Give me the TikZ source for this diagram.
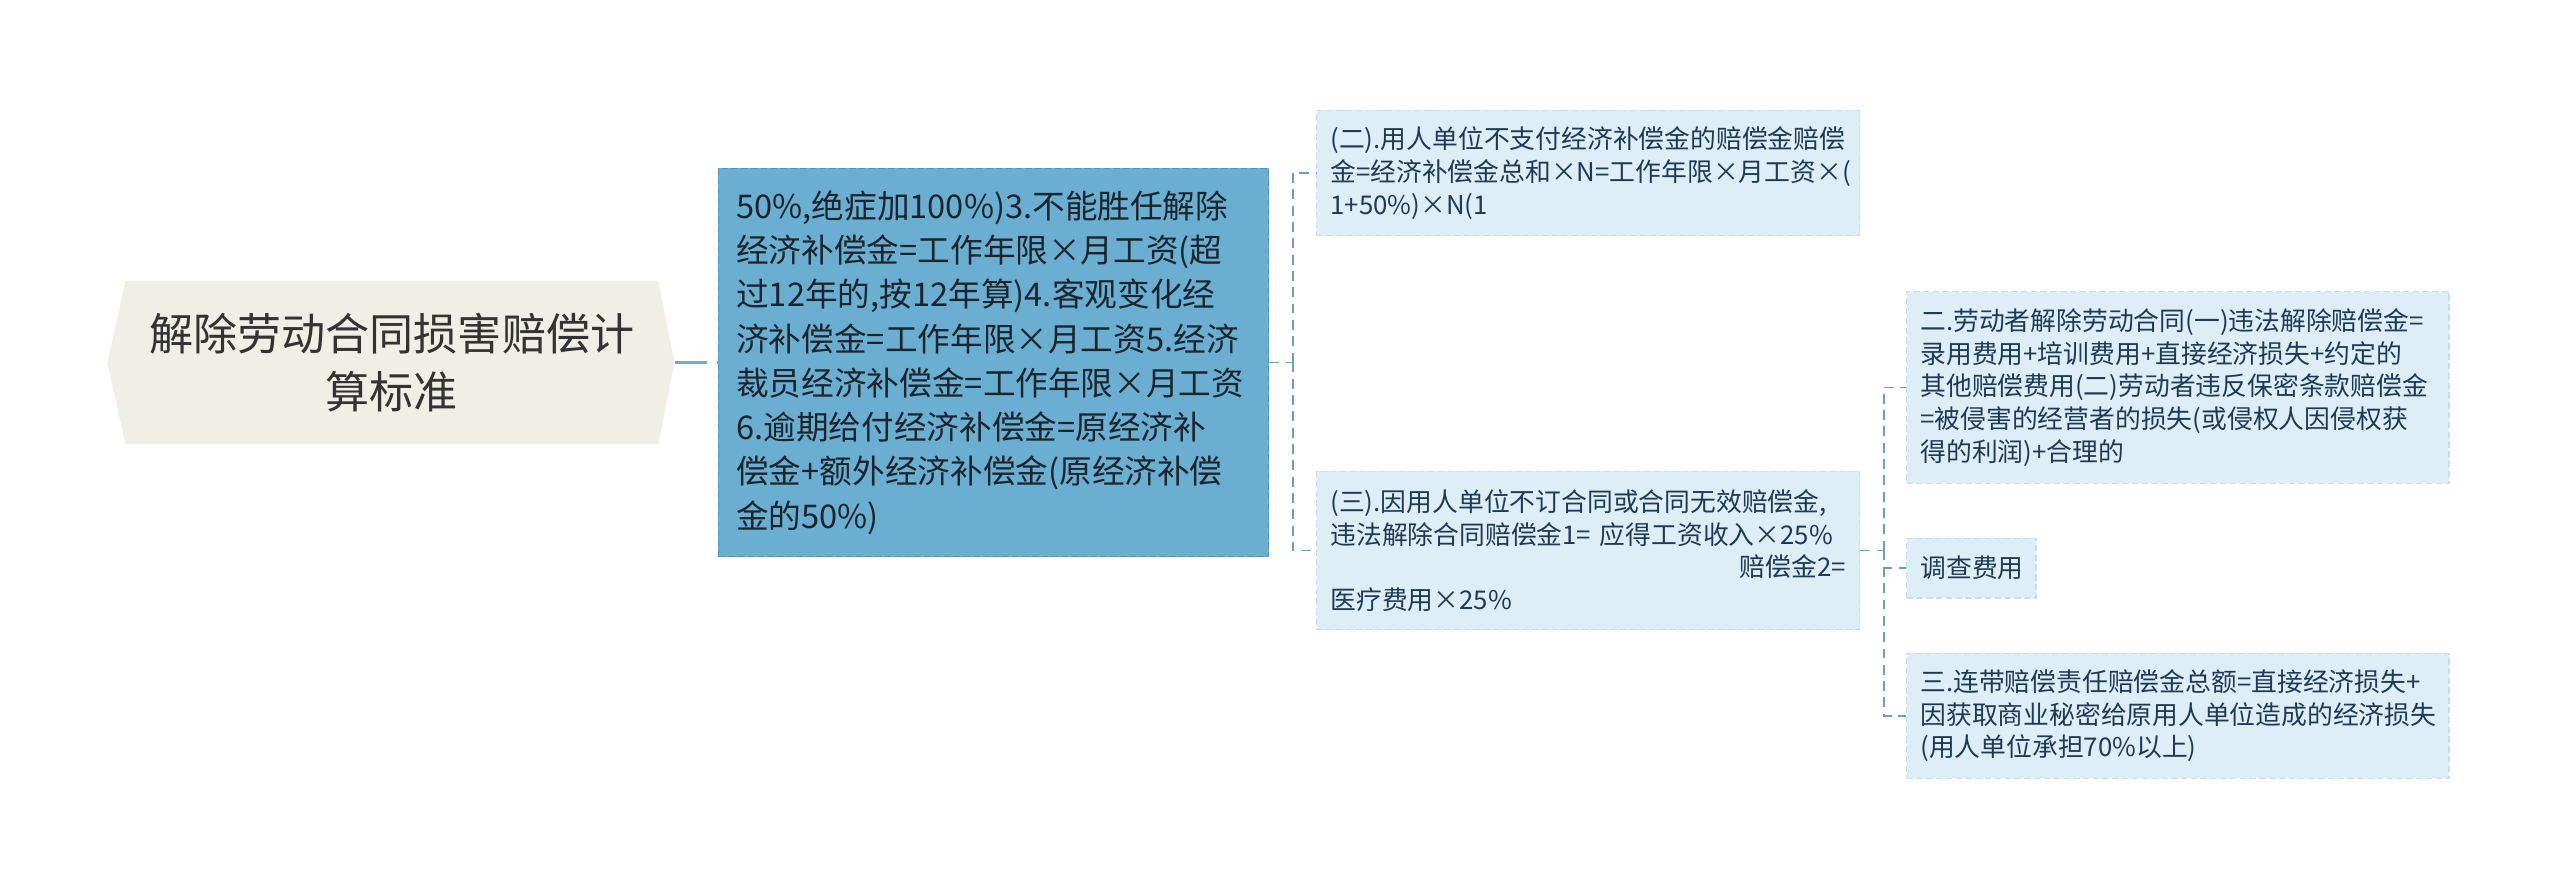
\documentclass[tikz,border=0pt]{standalone}
\usepackage{fontspec}
\setmainfont{Noto Sans CJK SC}
\usepackage{tikz}
\usetikzlibrary{backgrounds}
\definecolor{rootbeige}{RGB}{239,239,230}
\definecolor{roottext}{RGB}{51,51,51}
\definecolor{mainblue}{RGB}{106,174,210}
\definecolor{mainedge}{RGB}{84,148,190}
\definecolor{maintext}{RGB}{28,36,44}
\definecolor{leafblue}{RGB}{222,238,246}
\definecolor{leafedge}{RGB}{198,222,237}
\definecolor{leaftext}{RGB}{30,58,86}
\definecolor{linkblue}{RGB}{108,158,192}

\tikzset{
    rootnode/.style={minimum width=326pt, minimum height=100pt, inner sep=0pt,
        align=center, text=roottext, font=\fontsize{27pt}{35.7pt}\selectfont},
    mainnode/.style={fill=mainblue, draw=mainedge, dash pattern=on 4pt off 2pt,
        line width=0.8pt, inner xsep=11pt, inner ysep=0pt, text width=315pt,
        minimum height=238pt, align=left, text=maintext,
        font=\fontsize{20pt}{27.1pt}\selectfont},
    leafnode/.style={fill=leafblue, draw=leafedge, dash pattern=on 4pt off 2pt,
        line width=0.8pt, inner xsep=8.5pt, inner ysep=0pt, align=left,
        text=leaftext, font=\fontsize{15.8pt}{20pt}\selectfont},
    trunk/.style={draw=mainblue, line width=2pt, dash pattern=on 20pt off 6pt},
    link/.style={draw=linkblue, line width=1.1pt, dash pattern=on 6pt off 4pt}
}

\begin{document}
\begin{tikzpicture}[x=1pt, y=-1pt]
    \useasboundingbox (0,0) rectangle (1568,544.5);

    % Root
    \node[rootnode] (root) at (240,222) {解除劳动合同损害赔偿计\\算标准};
    \begin{scope}[on background layer]
        \fill[rootbeige] (root.north west) -- (root.north east) -- ([xshift=10pt]root.east)
            -- (root.south east) -- (root.south west) -- ([xshift=-11pt]root.west) -- cycle;
    \end{scope}
    \coordinate (roottip) at ([xshift=10pt]root.east);

    % Main topic
    \node[mainnode] (main) at (608.5,222) {50\%,绝症加100\%)3.不能胜任解除\\
        经济补偿金=工作年限×月工资(超\\
        过12年的,按12年算)4.客观变化经\\
        济补偿金=工作年限×月工资5.经济\\
        裁员经济补偿金=工作年限×月工资\\
        6.逾期给付经济补偿金=原经济补\\
        偿金+额外经济补偿金(原经济补偿\\
        金的50\%)};

    % Second level
    \node[leafnode, text width=315.6pt, minimum height=76.7pt] (pay) at (972.7,106)
        {(二).用人单位不支付经济补偿金的赔偿金赔偿\\
        金=经济补偿金总和×N=工作年限×月工资×(\\
        1+50\%)×N(1};
    \node[leafnode, text width=315.6pt, minimum height=97pt] (sign) at (972.7,337.2)
        {(三).因用人单位不订合同或合同无效赔偿金,\\
        违法解除合同赔偿金1= 应得工资收入×25\%\\
        \hfill 赔偿金2=\hspace*{8pt}\\
        医疗费用×25\%};

    % Third level
    \node[leafnode, text width=315.3pt, minimum height=117.4pt] (quit) at (1333.9,237.3)
        {二.劳动者解除劳动合同(一)违法解除赔偿金=\\
        录用费用+培训费用+直接经济损失+约定的\\
        其他赔偿费用(二)劳动者违反保密条款赔偿金\\
        =被侵害的经营者的损失(或侵权人因侵权获\\
        得的利润)+合理的};
    \node[leafnode, text width=62.3pt, minimum height=36.7pt] (survey) at (1207.4,348)
        {调查费用};
    \node[leafnode, text width=315.3pt, minimum height=76.6pt] (joint) at (1333.9,438.4)
        {三.连带赔偿责任赔偿金总额=直接经济损失+\\
        因获取商业秘密给原用人单位造成的经济损失\\
        (用人单位承担70\%以上)};

    % Connectors
    \draw[trunk] (roottip) -- (main.west);
    \coordinate (fork1) at ([xshift=14.5pt]main.east);
    \draw[link] (main.east) -- (fork1);
    \draw[link] (fork1) |- (pay.west);
    \draw[link] (fork1) |- (sign.west);
    \coordinate (fork2) at ([xshift=14.5pt]sign.east);
    \draw[link] (sign.east) -- (fork2);
    \foreach \leaf in {quit,survey,joint}
    {
        \draw[link] (fork2) |- (\leaf.west);
    }
\end{tikzpicture}
\end{document}
